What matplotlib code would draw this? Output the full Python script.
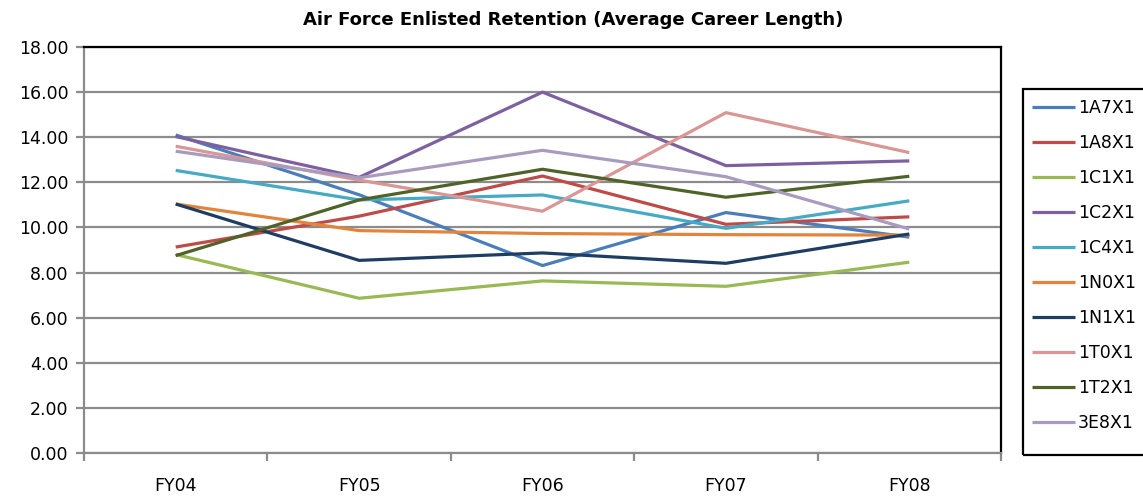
import matplotlib.pyplot as plt
from matplotlib.patches import Rectangle
import numpy as np

# dados
anos = ['FY04', 'FY05', 'FY06', 'FY07', 'FY08']
afsc = ['1A7X1', '1A8X1', '1C1X1', '1C2X1', '1C4X1',
        '1N0X1', '1N1X1', '1T0X1', '1T2X1', '3E8X1']

v_1a7x1 = [14.10, 11.45, 8.31, 10.66, 9.57]
v_1a8x1 = [9.13, 10.50, 12.28, 10.14, 10.47]
v_1c1x1 = [8.80, 6.86, 7.63, 7.39, 8.46]
v_1c2x1 = [14.03, 12.22, 16.00, 12.74, 12.95]
v_1c4x1 = [12.53, 11.22, 11.44, 9.96, 11.18]
v_1n0x1 = [11.04, 9.86, 9.73, 9.68, 9.66]
v_1n1x1 = [11.04, 8.54, 8.87, 8.41, 9.71]
v_1t0x1 = [13.60, 12.10, 10.72, 15.09, 13.32]
v_1t2x1 = [8.75, 11.22, 12.58, 11.34, 12.27]
v_3e8x1 = [13.38, 12.20, 13.42, 12.25, 9.93]

series = [v_1a7x1, v_1a8x1, v_1c1x1, v_1c2x1, v_1c4x1,
          v_1n0x1, v_1n1x1, v_1t0x1, v_1t2x1, v_3e8x1]
cores = ['#4A7EBB', '#BE4B48', '#98B954', '#7D60A0', '#46AAC5',
         '#E2843C', '#1F3D63', '#D99694', '#4F6228', '#A99BBD']

W, H = 1143, 496
fig = plt.figure(figsize=(W / 100, H / 100), dpi=100)
ax = fig.add_axes([84 / W, 1 - 453 / H, (1001 - 84) / W, (453 - 47) / H])

x = np.arange(len(anos))
for nome, vals, cor in zip(afsc, series, cores):
    ax.plot(x, vals, color=cor, lw=2.3, label=nome, solid_capstyle='butt')

ax.set_xlim(-0.5, len(anos) - 0.5)
ax.set_ylim(0, 18)
ax.set_yticks(np.arange(0, 18.1, 2))
ax.set_yticklabels([f'{v:.2f}' for v in np.arange(0, 18.1, 2)])
ax.yaxis.grid(True, color='#8C8C8C', lw=1.6)
ax.set_axisbelow(True)

# rotulos no centro, marcas nas fronteiras das categorias (estilo Excel)
ax.set_xticks(x)
ax.set_xticklabels(anos)
ax.set_xticks(np.arange(-0.5, len(anos)), minor=True)
ax.tick_params(axis='x', which='major', length=0, pad=17, labelsize=12.5)
ax.tick_params(axis='x', which='minor', length=6, width=1.6, color='#8C8C8C')
ax.tick_params(axis='y', length=6, width=1.6, color='#8C8C8C', labelsize=12.5, pad=5)

for lado in ['left', 'bottom']:
    ax.spines[lado].set_color('#8C8C8C')
    ax.spines[lado].set_linewidth(1.6)
for lado in ['top', 'right']:
    ax.spines[lado].set_color('black')
    ax.spines[lado].set_linewidth(1.6)

fig.text(573 / W, 1 - 20 / H, 'Air Force Enlisted Retention (Average Career Length)',
         ha='center', va='center', fontsize=13, fontweight='bold')

# legenda sem moldura; moldura desenhada a parte (mais alta que as entradas)
leg = fig.legend(loc='upper left', bbox_to_anchor=(1032 / W, 1 - 99 / H),
                 frameon=False, fontsize=12.5, handlelength=2.5,
                 handletextpad=0.15, labelspacing=0.98, borderpad=0, borderaxespad=0)
fig.patches.append(Rectangle((1023 / W, 1 - 455 / H), 130 / W, (455 - 89) / H,
                             transform=fig.transFigure, fill=False,
                             edgecolor='black', linewidth=1.6))

plt.savefig('out.png', dpi=100)
plt.close()
